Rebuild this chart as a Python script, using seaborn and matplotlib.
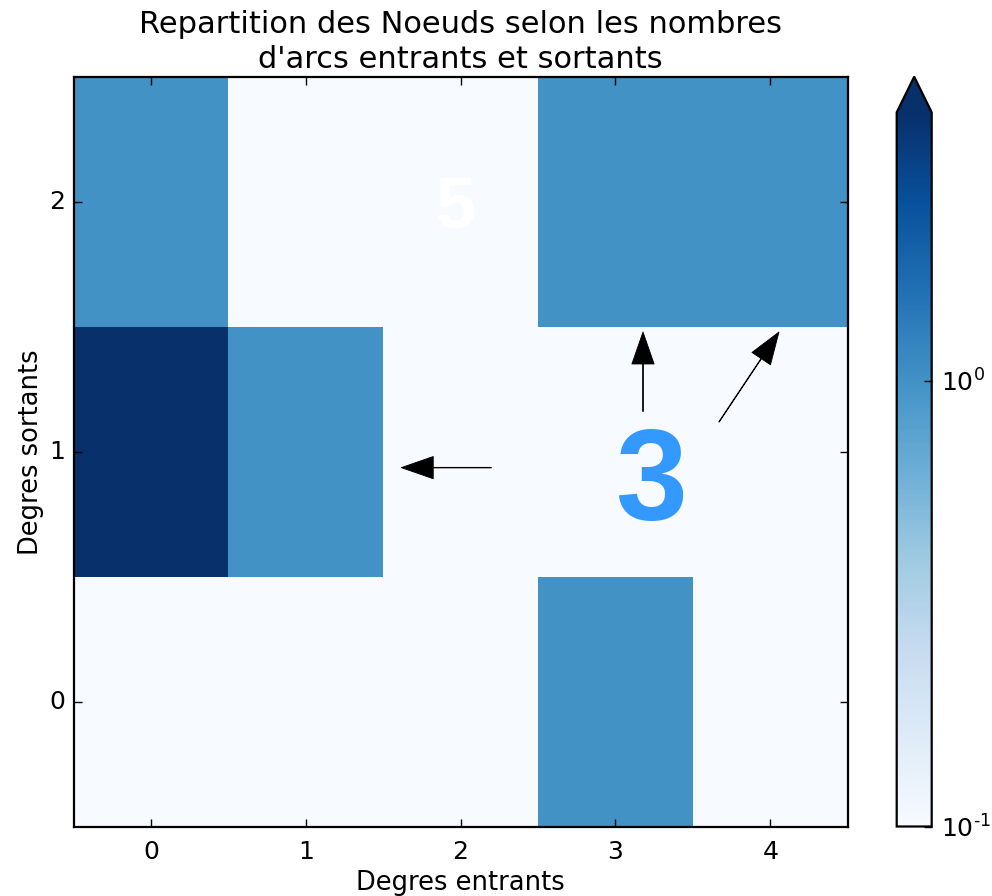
import numpy as np
import pandas as pd
import matplotlib
matplotlib.use("Agg")
import matplotlib.pyplot as plt
from matplotlib.colors import LogNorm
import seaborn as sns

# Node counts by (in-degree, out-degree)
degres_entrants = [0, 1, 2, 3, 4]
degres_sortants = [0, 1, 2]
counts_sortant_0 = [0, 0, 0, 1, 0]
counts_sortant_1 = [5, 1, 0, 0, 0]
counts_sortant_2 = [1, 0, 0, 1, 1]
cbar_ticks = [0.1, 1]
cbar_ticklabels = [r"$\mathdefault{10^{\text{-1}}}$", r"$\mathdefault{10^{0}}$"]

sns.set_theme(style="white")
plt.rcParams["font.family"] = ["DejaVu Sans"]
plt.rcParams.update({
    "text.color": "black",
    "axes.labelcolor": "black",
    "xtick.color": "black",
    "ytick.color": "black",
    "axes.axisbelow": False,
    "axes.unicode_minus": False,
})

data = pd.DataFrame(
    [counts_sortant_0, counts_sortant_1, counts_sortant_2],
    index=degres_sortants, columns=degres_entrants,
).astype(float)

cmap = plt.get_cmap("Blues").copy()
cmap.set_bad(cmap(0.0))
cmap.set_under(cmap(0.0))
norm = LogNorm(vmin=0.1, vmax=4)

fig = plt.figure(figsize=(9.92, 8.96), dpi=100)
W, H = 992, 896
ax = fig.add_axes([73.5 / W, (H - 826.5) / H, (847.7 - 73.5) / W, (826.5 - 77.3) / H])
cax = fig.add_axes([896.7 / W, (H - 826.5) / H, (931.7 - 896.7) / W, (826.5 - 76.7) / H])

sns.heatmap(data, ax=ax, cbar_ax=cax, cmap=cmap, norm=norm,
            cbar_kws={"extend": "max"}, linewidths=0)
ax.invert_yaxis()
ax.set_axisbelow(False)

ax.set_xticks(np.arange(len(degres_entrants)) + 0.5)
ax.set_xticklabels([str(v) for v in degres_entrants], fontsize=18)
ax.set_yticks(np.arange(len(degres_sortants)) + 0.5)
ax.set_yticklabels([str(v) for v in degres_sortants], fontsize=18, rotation=0)
ax.tick_params(axis="both", which="both", direction="in", length=6, width=1,
               color="black", top=True, right=True, bottom=True, left=True)
ax.tick_params(axis="x", pad=10)
ax.tick_params(axis="y", pad=6)
for s in ax.spines.values():
    s.set_visible(True)
    s.set_color("black")
    s.set_linewidth(1.6)
    s.set_zorder(5)

ax.set_xlabel("Degres entrants", fontsize=18.5, labelpad=4)
ax.set_ylabel("Degres sortants", fontsize=18.5, labelpad=4)
ax.set_title("Repartition des Noeuds selon les nombres\nd'arcs entrants et sortants",
             fontsize=22, pad=7, linespacing=1.25)

# Annotations
ax.text(1.97 + 0.5, 1.899 + 0.5, "5", color="white", fontsize=52, fontweight="bold",
        family="Liberation Sans", ha="center", va="baseline")
ax.text(3.23 + 0.5, 0.726 + 0.5, "3", color="#3399ff", fontsize=93, fontweight="bold",
        family="Liberation Sans", ha="center", va="baseline")
arrow_kw = dict(facecolor="black", edgecolor="black", width=0.4, headwidth=16,
                headlength=23, shrink=0.0, lw=0.6)
arrows = [((1.617, 0.937), (2.198, 0.937)),
          ((3.178, 1.48), (3.178, 1.162)),
          ((4.056, 1.48), (3.669, 1.120))]
for (hx, hy), (tx, ty) in arrows:
    ax.annotate("", xy=(hx + 0.5, hy + 0.5), xytext=(tx + 0.5, ty + 0.5),
                arrowprops=arrow_kw)

# Colorbar styling
cbar = ax.collections[0].colorbar
cbar.outline.set_visible(True)
cbar.outline.set_linewidth(1.6)
cbar.outline.set_edgecolor("black")
cbar.set_ticks(cbar_ticks)
cbar.set_ticklabels(cbar_ticklabels)
cbar.ax.minorticks_off()
cbar.ax.tick_params(direction="in", length=6, width=1, color="black",
                    labelsize=18, pad=7)

fig.savefig("out.png", dpi=100, facecolor="white")
